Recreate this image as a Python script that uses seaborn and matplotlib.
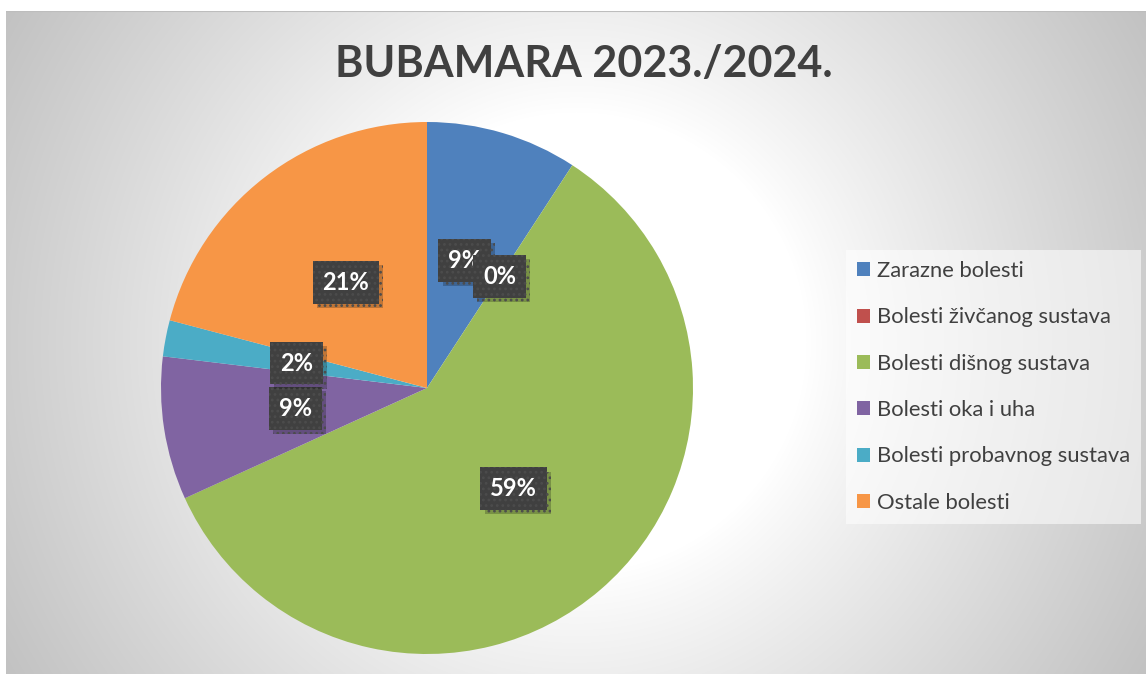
import matplotlib.pyplot as plt
import matplotlib.patheffects as pe
import numpy as np
import seaborn as sns

# data
categories = ["Zarazne bolesti", "Bolesti živčanog sustava", "Bolesti dišnog sustava",
              "Bolesti oka i uha", "Bolesti probavnog sustava", "Ostale bolesti"]
shares = [9.2, 0.0, 59.0, 8.7, 2.2, 20.9]
colors = ["#4F81BD", "#C0504D", "#9BBB59", "#8064A2", "#4BACC6", "#F79646"]
title = "BUBAMARA 2023./2024."

sns.set_theme(style="white")
plt.rcParams["font.family"] = ["Lato", "DejaVu Sans"]
plt.rcParams["hatch.linewidth"] = 1.2
palette = sns.color_palette(colors)

W, H = 1146, 675
fig = plt.figure(figsize=(W / 100, H / 100), dpi=100)
fig.patch.set_facecolor("white")

# chart area background (radial gradient)
bg = fig.add_axes([6 / W, 1 / H, 1140 / W, 663 / H])
yy, xx = np.mgrid[11:674, 6:1146]
d = np.hypot(xx - 576, yy - 342)
t = np.clip((d - 230) / 450, 0, 1) ** 0.9
g = 1 - 0.25 * t
bg.imshow(np.dstack([g, g, g]), aspect="auto", extent=[0, 1, 0, 1])
bg.set_xlim(0, 1)
bg.set_ylim(0, 1)
bg.axis("off")
bg.axhline(1, color="#bdbdbd", lw=1.5)

# pie
cx, cy, r = 427, 388, 266
ax = fig.add_axes([(cx - r) / W, (H - cy - r) / H, 2 * r / W, 2 * r / H])
wedges, texts, autotexts = ax.pie(
    shares, colors=palette, startangle=90, counterclock=False,
    autopct=lambda p: f"{p:.0f}%", pctdistance=0.5, radius=1,
    wedgeprops=dict(linewidth=0),
    textprops=dict(color="white", fontsize=17, fontweight="bold"))
for at in autotexts:
    at.set_bbox(dict(boxstyle="square,pad=0.42", facecolor="#404040",
                     edgecolor="#4c4c4c", linewidth=0, hatch="..."))
    at.get_bbox_patch().set_path_effects(
        [pe.SimplePatchShadow(offset=(3, -3), shadow_rgbFace="black", alpha=0.22), pe.Normal()])
ax.set_xlim(-1, 1)
ax.set_ylim(-1, 1)
ax.set_aspect("equal")
ax.axis("off")

fig.text(584 / W, 1 - 64 / H, title, ha="center", va="center",
         fontsize=31, fontweight="bold", color="#404040")

leg = fig.legend(wedges, categories, loc="upper left",
                 bbox_to_anchor=(846 / W, 1 - 250 / H),
                 fontsize=15.8, labelcolor="#404040", frameon=True,
                 facecolor="white", edgecolor="none", framealpha=0.55,
                 fancybox=False, handlelength=0.6, handleheight=0.6,
                 handletextpad=0.3, labelspacing=1.2, borderpad=0.5,
                 borderaxespad=0)

fig.savefig("out.png", dpi=100)
